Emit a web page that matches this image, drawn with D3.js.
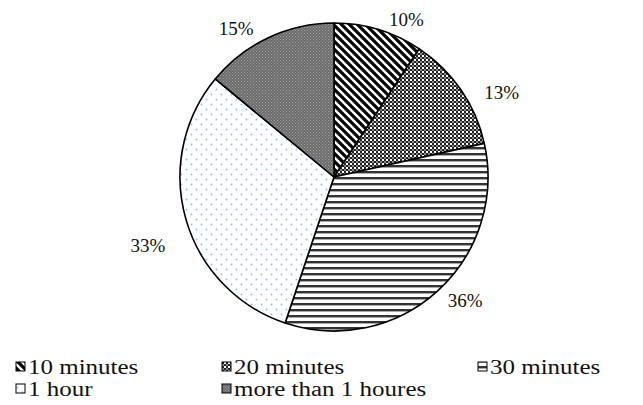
<!DOCTYPE html>
<html>
<head>
<meta charset="utf-8">
<script src="https://cdn.jsdelivr.net/npm/d3@7"></script>
<style>
  html, body { margin: 0; padding: 0; background: #fff; }
  svg { display: block; }
  text { font-family: "Liberation Serif", "Times New Roman", serif; fill: #111; }
</style>
</head>
<body>
<svg id="chart" width="643" height="405"></svg>
<script>
// Survey answers: time spent, share of respondents (%)
const categories = ["10 minutes", "20 minutes", "30 minutes", "1 hour", "more than 1 houres"];
const percents = [10, 13, 36, 33, 15];
const labels = ["10%", "13%", "36%", "33%", "15%"];

// Layout
const cx = 334, cy = 177, R = 154;
const labelRadius = R + 24;
// small per-slice nudges for the outside labels
const labelNudge = [[21, 13], [21, 16], [12, -9], [-15, 19], [-22, 12]];
const patternIds = ["p-diag", "p-check", "p-hlines", "p-dots", "p-gray"];

const svg = d3.select("#chart");
const defs = svg.append("defs");

// diagonal stripes (top-left to bottom-right)
{
  const p = defs.append("pattern").attr("id", "p-diag").attr("patternUnits", "userSpaceOnUse")
    .attr("width", 8).attr("height", 8);
  p.append("rect").attr("width", 8).attr("height", 8).attr("fill", "#fff");
  p.append("path").attr("d", "M-2,-2 L10,10 M-2,6 L2,10 M6,-2 L10,2")
    .attr("stroke", "#000").attr("stroke-width", 3.2);
}
// fine black/white checker
{
  const p = defs.append("pattern").attr("id", "p-check").attr("patternUnits", "userSpaceOnUse")
    .attr("width", 4).attr("height", 4);
  p.append("rect").attr("width", 4).attr("height", 4).attr("fill", "#fff");
  p.append("rect").attr("x", 0).attr("y", 0).attr("width", 2).attr("height", 2).attr("fill", "#222");
  p.append("rect").attr("x", 2).attr("y", 2).attr("width", 2).attr("height", 2).attr("fill", "#222");
  p.append("rect").attr("x", 2).attr("y", 0).attr("width", 2).attr("height", 2).attr("fill", "#888");
}
// horizontal lines
{
  const p = defs.append("pattern").attr("id", "p-hlines").attr("patternUnits", "userSpaceOnUse")
    .attr("width", 6).attr("height", 6);
  p.append("rect").attr("width", 6).attr("height", 6).attr("fill", "#fff");
  p.append("rect").attr("y", 0).attr("width", 6).attr("height", 2).attr("fill", "#333");
  p.append("rect").attr("y", 2).attr("width", 6).attr("height", 1).attr("fill", "#aaa");
}
// light blue dots on white
{
  const p = defs.append("pattern").attr("id", "p-dots").attr("patternUnits", "userSpaceOnUse")
    .attr("width", 10).attr("height", 10);
  p.append("rect").attr("width", 10).attr("height", 10).attr("fill", "#fdfeff");
  p.append("circle").attr("cx", 2.5).attr("cy", 2.5).attr("r", 0.9).attr("fill", "#9fb6dd");
  p.append("circle").attr("cx", 7.5).attr("cy", 7.5).attr("r", 0.9).attr("fill", "#9fb6dd");
}
// dark gray fine checker
{
  const p = defs.append("pattern").attr("id", "p-gray").attr("patternUnits", "userSpaceOnUse")
    .attr("width", 3).attr("height", 3);
  p.append("rect").attr("width", 3).attr("height", 3).attr("fill", "#6a6a6a");
  p.append("rect").attr("x", 0).attr("y", 0).attr("width", 1).attr("height", 1).attr("fill", "#a5a5a5");
  p.append("rect").attr("x", 1.5).attr("y", 1.5).attr("width", 1).attr("height", 1).attr("fill", "#a5a5a5");
}

const data = categories.map((c, i) => ({ name: c, value: percents[i], label: labels[i], pat: patternIds[i] }));

const pie = d3.pie().value(d => d.value).sort(null).startAngle(0).endAngle(2 * Math.PI);
const arcs = pie(data);
const arc = d3.arc().innerRadius(0).outerRadius(R);

const g = svg.append("g").attr("transform", `translate(${cx},${cy})`);
g.selectAll("path.slice").data(arcs).enter().append("path")
  .attr("class", "slice")
  .attr("d", arc)
  .attr("fill", d => `url(#${d.data.pat})`)
  .attr("stroke", "#000")
  .attr("stroke-width", 1.6)
  .attr("stroke-linejoin", "round");

// outside labels
g.selectAll("text.lbl").data(arcs).enter().append("text")
  .attr("class", "lbl")
  .attr("x", (d, i) => Math.sin((d.startAngle + d.endAngle) / 2) * labelRadius + labelNudge[i][0])
  .attr("y", (d, i) => -Math.cos((d.startAngle + d.endAngle) / 2) * labelRadius + labelNudge[i][1])
  .attr("text-anchor", "middle")
  .attr("dominant-baseline", "central")
  .attr("font-size", 19)
  .text(d => d.data.label);

// legend: three columns, two rows; legend type is set slightly wide
const legendX = [16, 222, 478];
const legendY = [367, 389];
const lg = svg.append("g");
data.forEach((d, i) => {
  const col = i % 3, row = Math.floor(i / 3);
  const x = legendX[col], y = legendY[row];
  lg.append("rect")
    .attr("x", x).attr("y", y - 5).attr("width", 9).attr("height", 9)
    .attr("fill", `url(#${d.pat})`).attr("stroke", "#000").attr("stroke-width", 1);
  lg.append("text")
    .attr("transform", `translate(${x + 12},${y}) scale(1.25,1)`)
    .attr("dominant-baseline", "central")
    .attr("font-size", 20)
    .text(d.name);
});
</script>
</body>
</html>
